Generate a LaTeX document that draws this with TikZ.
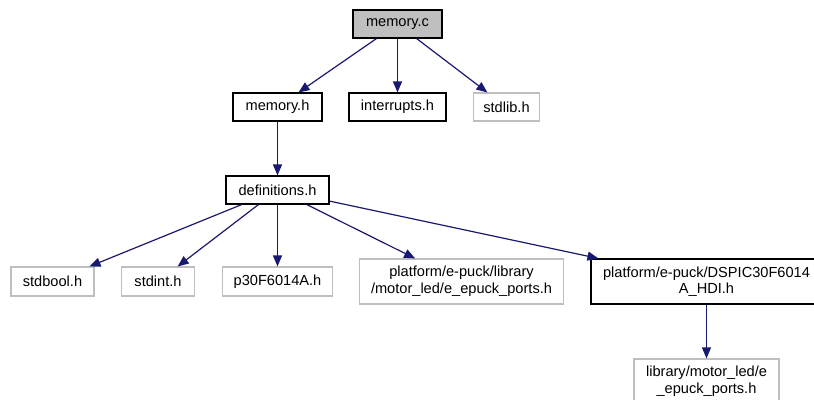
\documentclass[tikz,border=0pt]{standalone}
\usepackage{fontspec}
\setmainfont{Liberation Sans}
\usetikzlibrary{arrows.meta}
\definecolor{edgeblue}{HTML}{191970}
\definecolor{fillgray}{HTML}{BFBFBF}
\definecolor{linegray}{HTML}{BFBFBF}

\tikzset{
  file/.style={draw=black, line width=1.1pt, inner sep=0pt, align=center,
    font=\fontsize{14.6}{16.6}\selectfont},
  extfile/.style={file, draw=linegray},
  topfile/.style={file, fill=fillgray},
  incl/.style={draw=edgeblue, line width=1.2pt, -{Triangle[length=11pt,width=9pt]}},
}

\begin{document}
\begin{tikzpicture}[x=1pt,y=-1pt]
\useasboundingbox (0,0) rectangle (814,399);

\node[topfile, minimum width=89pt, minimum height=28pt] (memc) at (397.5,24) {memory.c};

\node[file, minimum width=89pt, minimum height=28pt] (memh) at (277.5,107) {memory.h};
\node[file, minimum width=97pt, minimum height=28pt] (intr) at (397.5,107) {interrupts.h};
\node[extfile, minimum width=66pt, minimum height=28pt] (stdlib) at (506.5,107) {stdlib.h};

\node[file, minimum width=103pt, minimum height=28pt] (defs) at (277.5,190) {definitions.h};

\node[extfile, minimum width=83pt, minimum height=29pt] (stdbool) at (52.5,281.5) {stdbool.h};
\node[extfile, minimum width=73pt, minimum height=29pt] (stdint) at (158,281.5) {stdint.h};
\node[extfile, minimum width=110pt, minimum height=29pt] (p30) at (277.5,281.5) {p30F6014A.h};
\node[extfile, minimum width=204pt, minimum height=45pt] (portsa) at (461.5,281.5)
  {platform/e-puck/library\\/motor\_led/e\_epuck\_ports.h};
\node[file, minimum width=231pt, minimum height=45pt] (dspic) at (706.5,281.5)
  {platform/e-puck/DSPIC30F6014\\A\_HDI.h};

\node[extfile, minimum width=145pt, minimum height=45pt] (portsb) at (706.5,381.5)
  {library/motor\_led/e\\\_epuck\_ports.h};

\draw[incl] (memc) -- (memh);
\draw[incl] (memc) -- (intr);
\draw[incl] (memc) -- (stdlib);
\draw[incl] (memh) -- (defs);
\draw[incl] (defs) -- (stdbool);
\draw[incl] (defs) -- (stdint);
\draw[incl] (defs) -- (p30);
\draw[incl] (defs) -- (portsa);
\draw[incl] (defs) -- (dspic);
\draw[incl] (dspic) -- (portsb);
\end{tikzpicture}
\end{document}
